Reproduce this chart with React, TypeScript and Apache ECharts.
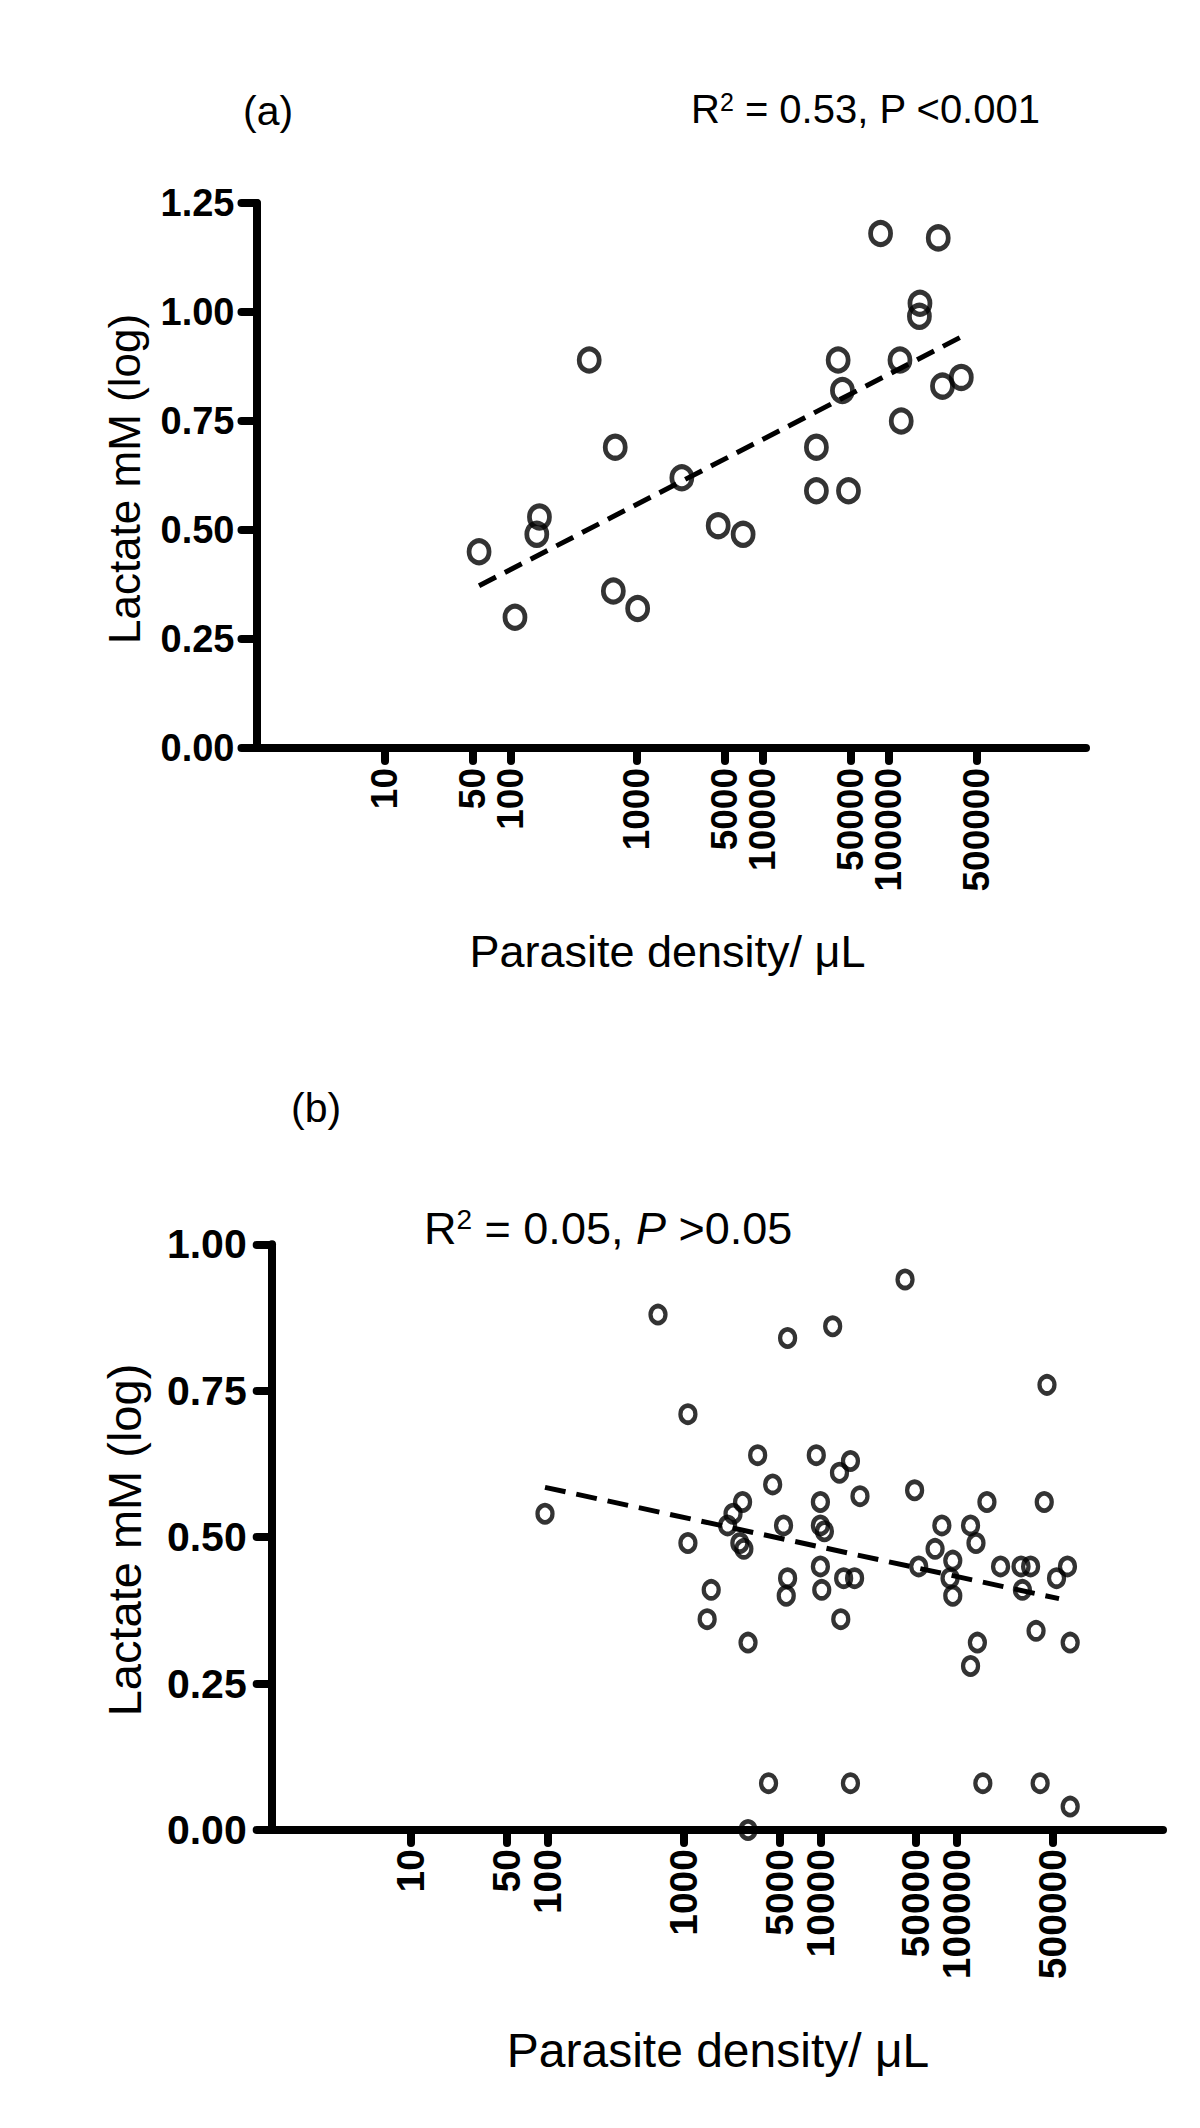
import { useEffect, useRef } from 'react';
import * as echarts from 'echarts';

const FONT = '"Liberation Sans", Arial, Helvetica, sans-serif';

// x tick labels (parasite density per µL), shared by both panels
const xTickValues = [10, 50, 100, 1000, 5000, 10000, 50000, 100000, 500000];

// Panel (a)
const densityA = [56, 108, 169, 161, 420, 676, 653, 1019, 2286, 4446, 7015, 26800, 26800, 48200, 39900, 43150, 86700, 123600, 126500, 178200, 176400, 249000, 269000, 379600];
const lactateA = [0.45, 0.30, 0.53, 0.49, 0.89, 0.69, 0.36, 0.32, 0.62, 0.51, 0.49, 0.69, 0.59, 0.59, 0.89, 0.82, 1.18, 0.89, 0.75, 1.02, 0.99, 1.17, 0.83, 0.85];
const fitDensityA = [56, 379600];
const fitLactateA = [0.372, 0.943];

// Panel (b)
const densityB = [96, 646, 1070, 1070, 1585, 1480, 3470, 2690, 2290, 2090, 2570, 2750, 2950, 2950, 4170, 4470, 5750, 5370, 5750, 5620, 9330, 10000, 10000, 10700, 10000, 10230, 12300, 13800, 16600, 19500, 14800, 17800, 14100, 16600, 41700, 49000, 52500, 69200, 77600, 93300, 89100, 93300, 125900, 138000, 166000, 141300, 125900, 154900, 208900, 295100, 346700, 302000, 457100, 436500, 380200, 407400, 537000, 645700, 676100, 676100];
const lactateB = [0.54, 0.88, 0.71, 0.49, 0.41, 0.36, 0.64, 0.56, 0.54, 0.52, 0.49, 0.48, 0.32, 0.00, 0.08, 0.59, 0.84, 0.52, 0.43, 0.40, 0.64, 0.56, 0.52, 0.51, 0.45, 0.41, 0.86, 0.61, 0.63, 0.57, 0.43, 0.43, 0.36, 0.08, 0.94, 0.58, 0.45, 0.48, 0.52, 0.46, 0.43, 0.40, 0.52, 0.49, 0.56, 0.32, 0.28, 0.08, 0.45, 0.45, 0.45, 0.41, 0.76, 0.56, 0.34, 0.08, 0.43, 0.45, 0.32, 0.04];
const fitDensityB = [96, 560000];
const fitLactateB = [0.585, 0.395];

const pairs = (xs: number[], ys: number[]) => xs.map((x, i) => [Math.log10(x), ys[i]]);

function xAxisFor(gridIndex: number, max: number, fontSize: number, margin: number) {
  return {
    type: 'value',
    gridIndex,
    min: -0.02,
    max,
    splitLine: { show: false },
    axisLine: { show: true, onZero: false, lineStyle: { color: '#000', width: 8, cap: 'round' } },
    axisTick: {
      show: true,
      customValues: xTickValues.map((v) => Math.log10(v)),
      length: 13,
      lineStyle: { color: '#000', width: 8, cap: 'round' },
    },
    axisLabel: {
      customValues: xTickValues.map((v) => Math.log10(v)),
      rotate: 90,
      margin,
      fontSize,
      fontWeight: 'bold',
      fontFamily: FONT,
      color: '#000',
      formatter: (v: number) => String(Math.round(Math.pow(10, v))),
    },
  };
}

function yAxisFor(gridIndex: number, max: number, fontSize: number, margin: number) {
  return {
    type: 'value',
    gridIndex,
    min: 0,
    max,
    interval: 0.25,
    splitLine: { show: false },
    axisLine: { show: true, onZero: false, lineStyle: { color: '#000', width: 8, cap: 'round' } },
    axisTick: { show: true, length: 15, lineStyle: { color: '#000', width: 8, cap: 'round' } },
    axisLabel: {
      margin,
      fontSize,
      fontWeight: 'bold',
      fontFamily: FONT,
      color: '#000',
      formatter: (v: number) => v.toFixed(2),
    },
  };
}

export default function App() {
  const ref = useRef<HTMLDivElement>(null);

  useEffect(() => {
    if (!ref.current) return;
    const chart = echarts.init(ref.current, null, { renderer: 'svg' });

    const text = (t: string, x: number, y: number, size: number, extra: any = {}) => ({
      type: 'text',
      x,
      y,
      silent: true,
      ...extra,
      style: {
        text: t,
        fontSize: size,
        fontFamily: FONT,
        fill: '#000',
        align: 'left',
        verticalAlign: 'middle',
        ...(extra.style || {}),
      },
    });

    chart.setOption({
      animation: false,
      backgroundColor: '#fff',
      grid: [
        { left: 256.5, top: 203, width: 829.5, height: 545, containLabel: false },
        { left: 271.7, top: 1244.3, width: 891.3, height: 585.7, containLabel: false },
      ],
      xAxis: [xAxisFor(0, 6.57, 37, 20), xAxisFor(1, 6.51, 39, 19)],
      yAxis: [yAxisFor(0, 1.25, 38, 22), yAxisFor(1, 1.0, 41, 25)],
      series: [
        {
          type: 'scatter',
          xAxisIndex: 0,
          yAxisIndex: 0,
          data: pairs(densityA, lactateA),
          symbol: 'circle',
          symbolSize: [20, 22],
          silent: true,
          itemStyle: { color: 'rgba(0,0,0,0)', borderColor: '#000', borderWidth: 5 },
          z: 3,
        },
        {
          type: 'line',
          xAxisIndex: 0,
          yAxisIndex: 0,
          data: pairs(fitDensityA, fitLactateA),
          showSymbol: false,
          silent: true,
          lineStyle: { color: '#000', width: 5, type: [19, 10] },
          z: 4,
        },
        {
          type: 'scatter',
          xAxisIndex: 1,
          yAxisIndex: 1,
          data: pairs(densityB, lactateB),
          symbol: 'circle',
          symbolSize: [15, 17],
          silent: true,
          itemStyle: { color: 'rgba(0,0,0,0)', borderColor: '#000', borderWidth: 4.5 },
          z: 3,
        },
        {
          type: 'line',
          xAxisIndex: 1,
          yAxisIndex: 1,
          data: pairs(fitDensityB, fitLactateB),
          showSymbol: false,
          silent: true,
          lineStyle: { color: '#000', width: 5, type: [21, 11] },
          z: 4,
        },
      ],
      graphic: [
        text('(a)', 243, 111, 41),
        {
          type: 'text',
          x: 691,
          y: 109,
          silent: true,
          style: {
            text: '{m|R}{s|2}{m| = 0.53, P <0.001}',
            fontFamily: FONT,
            fontSize: 40,
            fill: '#000',
            align: 'left',
            verticalAlign: 'middle',
            rich: {
              m: { fontSize: 40, fontFamily: FONT, fill: '#000' },
              s: { fontSize: 25, fontFamily: FONT, fill: '#000', verticalAlign: 'top' },
            },
          },
        },
        text('Lactate mM (log)', 124, 479, 44, { rotation: Math.PI / 2, style: { align: 'center' } }),
        text('Parasite density/ \u03bcL', 667.5, 951, 45, { style: { align: 'center' } }),
        text('(b)', 291, 1108, 41),
        {
          type: 'text',
          x: 424,
          y: 1228,
          silent: true,
          style: {
            text: '{m|R}{s|2}{m| = 0.05, }{i|P}{m| >0.05}',
            fontFamily: FONT,
            fontSize: 45,
            fill: '#000',
            align: 'left',
            verticalAlign: 'middle',
            rich: {
              m: { fontSize: 45, fontFamily: FONT, fill: '#000' },
              i: { fontSize: 45, fontFamily: FONT, fill: '#000', fontStyle: 'italic' },
              s: { fontSize: 28, fontFamily: FONT, fill: '#000', verticalAlign: 'top' },
            },
          },
        },
        text('Lactate mM (log)', 124, 1540, 47, { rotation: Math.PI / 2, style: { align: 'center' } }),
        text('Parasite density/ \u03bcL', 718, 2050, 48, { style: { align: 'center' } }),
      ],
    });

    return () => chart.dispose();
  }, []);

  return (
    <div
      ref={ref}
      style={{ position: 'absolute', left: 0, top: 0, width: 1200, height: 2128, background: '#fff' }}
    />
  );
}
